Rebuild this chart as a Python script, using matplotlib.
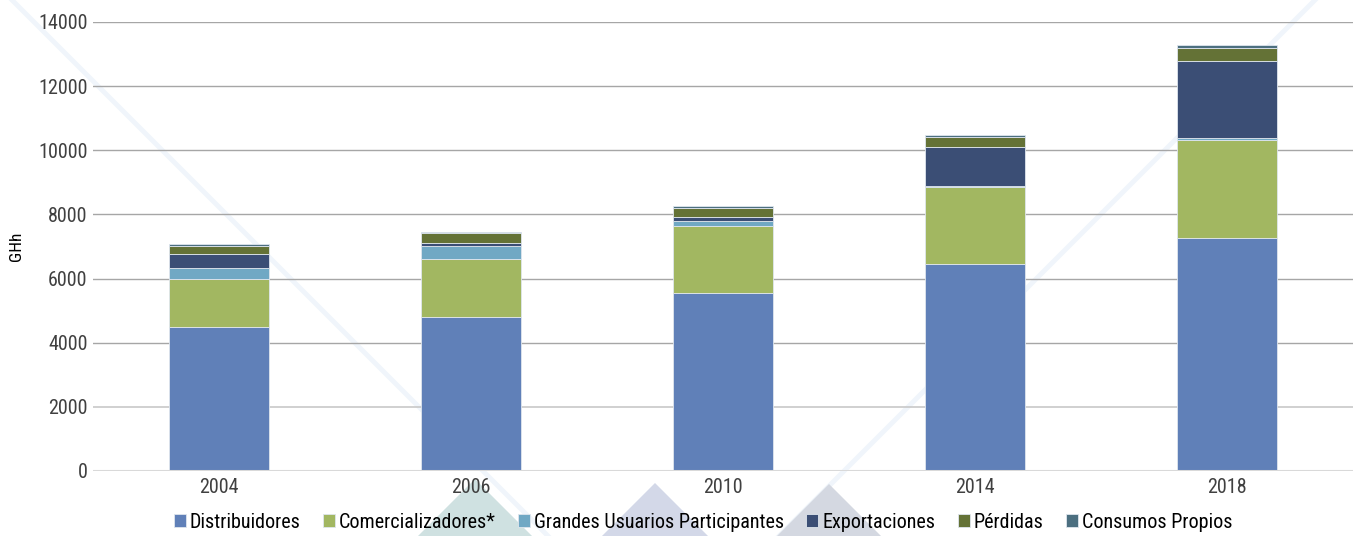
import matplotlib
matplotlib.use("Agg")
import matplotlib.pyplot as plt
from matplotlib.patches import Polygon
from matplotlib.lines import Line2D
import numpy as np

# ---------------- data ----------------
years = ["2004", "2006", "2010", "2014", "2018"]
distribuidores = [4500, 4800, 5540, 6450, 7250]
comercializadores = [1500, 1820, 2100, 2400, 3080]
grandes_usuarios = [320, 410, 165, 50, 45]
exportaciones = [450, 75, 125, 1215, 2400]
perdidas = [260, 310, 280, 310, 405]
consumos_propios = [55, 45, 55, 52, 100]

series_names = ["Distribuidores", "Comercializadores*", "Grandes Usuarios Participantes",
                "Exportaciones", "Pérdidas", "Consumos Propios"]
series_values = [distribuidores, comercializadores, grandes_usuarios,
                 exportaciones, perdidas, consumos_propios]
series_colors = ["#6080b8", "#a2b761", "#70a8c4", "#3b4e75", "#647236", "#4c6f80"]

yticks = [0, 2000, 4000, 6000, 8000, 10000, 12000, 14000]

# ---------------- style ----------------
plt.rcParams['font.family'] = ['Roboto Condensed', 'Liberation Sans Narrow', 'Roboto', 'DejaVu Sans']

W, H = 1358, 536
fig = plt.figure(figsize=(W / 100, H / 100), dpi=100)
fig.patch.set_facecolor("white")

def px(x, y):
    return (x / W, 1 - y / H)

# background watermark decorations
line_col = "#f0f5fb"
for (x0, y0), (x1, y1) in [((-10, -22), (560, 548)), ((1325, -10), (770, 545))]:
    a, b = px(x0, y0), px(x1, y1)
    fig.add_artist(Line2D([a[0], b[0]], [a[1], b[1]], transform=fig.transFigure,
                          color=line_col, lw=3.5, zorder=-2))
for (ax_, ay_), col in [((475, 479), "#cfe1e1"), ((655, 483), "#d3d8e8"), ((829, 484), "#d4d8e1")]:
    h = 560 - ay_
    tri = Polygon([px(ax_, ay_), px(ax_ - h, 560), px(ax_ + h, 560)], closed=True,
                  transform=fig.transFigure, facecolor=col, edgecolor="none", zorder=-1)
    fig.add_artist(tri)

ax = fig.add_axes([93 / W, 1 - 471 / H, (1353 - 93) / W, (471 - 22) / H])
ax.set_facecolor("none")

x = np.arange(len(years))
bottom = np.zeros(len(years))
for name, vals, col in zip(series_names, series_values, series_colors):
    ax.bar(x, vals, width=0.4, bottom=bottom, color=col, label=name,
           edgecolor="#dfe6ee", linewidth=0.6, zorder=3)
    bottom += np.array(vals)

ax.set_xlim(-0.5, len(years) - 0.5)
ax.set_ylim(0, 14000)
ax.set_yticks(yticks)
ax.set_yticklabels([str(t) for t in yticks])
ax.set_xticks(x)
ax.set_xticklabels(years)

for t in yticks[2:]:
    ax.axhline(t, color="#a6a6a6", lw=1.0, zorder=1)
ax.axhline(2000, color="#c8c8c8", lw=1.2, zorder=1)
ax.axhline(0, color="#d9d9d9", lw=2.2, zorder=4)

for s in ax.spines.values():
    s.set_visible(False)
ax.tick_params(axis="both", length=0, labelsize=14.5, colors="#404040")
ax.tick_params(axis="y", pad=4)
ax.tick_params(axis="x", pad=5)
ax.set_ylabel("GHh", fontsize=12.5, color="#000000")
ax.yaxis.set_label_coords(-0.055, 0.5)

leg = fig.legend(loc="center", bbox_to_anchor=(703 / W, 1 - 522 / H), ncol=6, frameon=False,
                 fontsize=14.5, handlelength=0.6, handleheight=0.6, handletextpad=0.2,
                 columnspacing=1.1, borderaxespad=0)
for t in leg.get_texts():
    t.set_color("#000000")

fig.savefig("out.png", dpi=100, facecolor="white")
